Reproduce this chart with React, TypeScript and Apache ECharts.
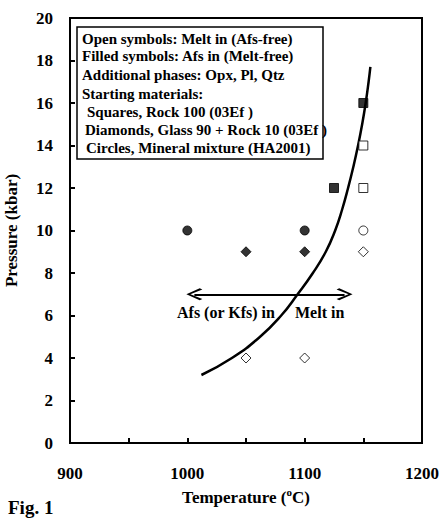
import React, { useEffect, useRef } from "react";
import * as echarts from "echarts";

const filledCircles = [[1000, 10], [1100, 10]];
const openCircles = [[1150, 10]];
const filledDiamonds = [[1050, 9], [1100, 9]];
const openDiamonds = [[1150, 9], [1050, 4], [1100, 4]];
const filledSquares = [[1125, 12], [1150, 16]];
const openSquares = [[1150, 14], [1150, 12]];

const boundaryT = [1012, 1038, 1062, 1080, 1094, 1107, 1118, 1126, 1132, 1137, 1141.5, 1145.5, 1149, 1152, 1154.5, 1156];
const boundaryP = [3.2, 4, 5, 6, 7, 8, 9, 10, 11, 12, 13, 14, 15, 16, 17, 17.7];

const arrowP = 7;
const arrowFromT = 1006;
const arrowToT = 1134;

const legendLines = [
  "Open symbols: Melt in (Afs-free)",
  "Filled symbols: Afs in (Melt-free)",
  "Additional phases: Opx, Pl, Qtz",
  "Starting materials:",
  "Squares, Rock 100 (03Ef )",
  "Diamonds, Glass 90 + Rock 10 (03Ef )",
  "Circles, Mineral mixture (HA2001)",
];

const FONT = "'Liberation Serif', 'Times New Roman', serif";

export default function App() {
  const ref = useRef<HTMLDivElement>(null);
  useEffect(() => {
    if (!ref.current) return;
    const chart = echarts.init(ref.current, null, { renderer: "svg" });
    const sym = (data: number[][], symbol: string, size: number | number[], filled: boolean) => ({
      type: "scatter",
      data,
      symbol,
      symbolSize: size,
      itemStyle: {
        color: filled ? "#000" : "#fff",
        borderColor: "#000",
        borderWidth: 1,
      },
      z: 5,
    });
    const legendY = [39, 56, 75, 94, 112, 130, 148];
    const legendX = [82, 82, 82, 82, 87, 85, 86];
    const arrowHead = "path://M10,0 L20,10 L18,12 L10,3 L2,12 L0,10 Z";
    chart.setOption({
      animation: false,
      backgroundColor: "#fff",
      grid: {
        left: 70,
        right: 19,
        top: 18,
        bottom: 75,
        outerBoundsMode: "none",
        containLabel: false,
        show: true,
        borderColor: "#000",
        borderWidth: 2,
        backgroundColor: "transparent",
      },
      xAxis: {
        type: "value",
        min: 900,
        max: 1200,
        interval: 100,
        name: "{a|Temperature (}{s|o}{a|C)}",
        nameLocation: "middle",
        nameGap: 30,
        nameTextStyle: {
          rich: {
            a: { fontFamily: FONT, fontWeight: "bold", fontSize: 17, color: "#000", verticalAlign: "bottom" },
            s: { fontFamily: FONT, fontWeight: "bold", fontSize: 11, color: "#000", verticalAlign: "top", padding: [0, 0, 8, 0] },
          },
        },
        axisLine: { lineStyle: { color: "#000", width: 2 } },
        axisTick: { inside: true, length: 5, lineStyle: { color: "#000", width: 2 } },
        minorTick: { show: true, splitNumber: 2, length: 5, lineStyle: { color: "#000", width: 2 } },
        splitLine: { show: false },
        axisLabel: {
          margin: 22,
          fontFamily: FONT,
          fontWeight: "bold",
          fontSize: 17,
          color: "#000",
          formatter: (v: number) => String(v),
        },
      },
      yAxis: {
        type: "value",
        min: 0,
        max: 20,
        interval: 2,
        name: "Pressure (kbar)",
        nameLocation: "middle",
        nameGap: 50,
        nameTextStyle: { fontFamily: FONT, fontWeight: "bold", fontSize: 17, color: "#000" },
        axisLine: { lineStyle: { color: "#000", width: 2 } },
        axisTick: { inside: true, length: 5, lineStyle: { color: "#000", width: 2 } },
        splitLine: { show: false },
        axisLabel: {
          margin: 17,
          fontFamily: FONT,
          fontWeight: "bold",
          fontSize: 17,
          color: "#000",
          formatter: (v: number) => String(v),
        },
      },
      graphic: [
        {
          type: "rect",
          shape: { x: 77, y: 27, width: 246, height: 132 },
          style: { fill: "#fff", stroke: "#000", lineWidth: 1.5 },
          z: 10,
        },
        ...legendLines.map((t, i) => ({
          type: "text",
          x: legendX[i],
          y: legendY[i],
          style: {
            text: t,
            font: `bold 15px ${FONT}`,
            fill: "#000",
            verticalAlign: "middle",
          },
          z: 11,
        })),
        {
          type: "text",
          x: 177,
          y: 312,
          style: { text: "Afs (or Kfs) in", font: `bold 16px ${FONT}`, fill: "#000", verticalAlign: "middle" },
          z: 11,
        },
        {
          type: "text",
          x: 295,
          y: 312,
          style: { text: "Melt in", font: `bold 16px ${FONT}`, fill: "#000", verticalAlign: "middle" },
          z: 11,
        },
        {
          type: "text",
          x: 8,
          y: 498,
          style: { text: "Fig. 1", font: `bold 19px ${FONT}`, fill: "#000" },
          z: 11,
        },
      ],
      series: [
        {
          type: "line",
          data: boundaryT.map((t, i) => [t, boundaryP[i]]),
          smooth: true,
          showSymbol: false,
          lineStyle: { color: "#000", width: 2.5 },
          z: 3,
          markLine: {
            silent: true,
            symbol: [arrowHead, arrowHead],
            symbolSize: [12, 16],
            lineStyle: { color: "#000", width: 2, type: "solid" },
            label: { show: false },
            data: [[{ coord: [arrowFromT, arrowP] }, { coord: [arrowToT, arrowP] }]],
          },
        },
        sym(filledCircles, "circle", 9, true),
        sym(openCircles, "circle", 9, false),
        sym(filledDiamonds, "diamond", [10, 10], true),
        sym(openDiamonds, "diamond", [10, 10], false),
        sym(filledSquares, "rect", 9, true),
        sym(openSquares, "rect", 9, false),
      ],
    });
    return () => chart.dispose();
  }, []);
  return <div ref={ref} style={{ width: 441, height: 518, position: "absolute", left: 0, top: 0 }} />;
}
